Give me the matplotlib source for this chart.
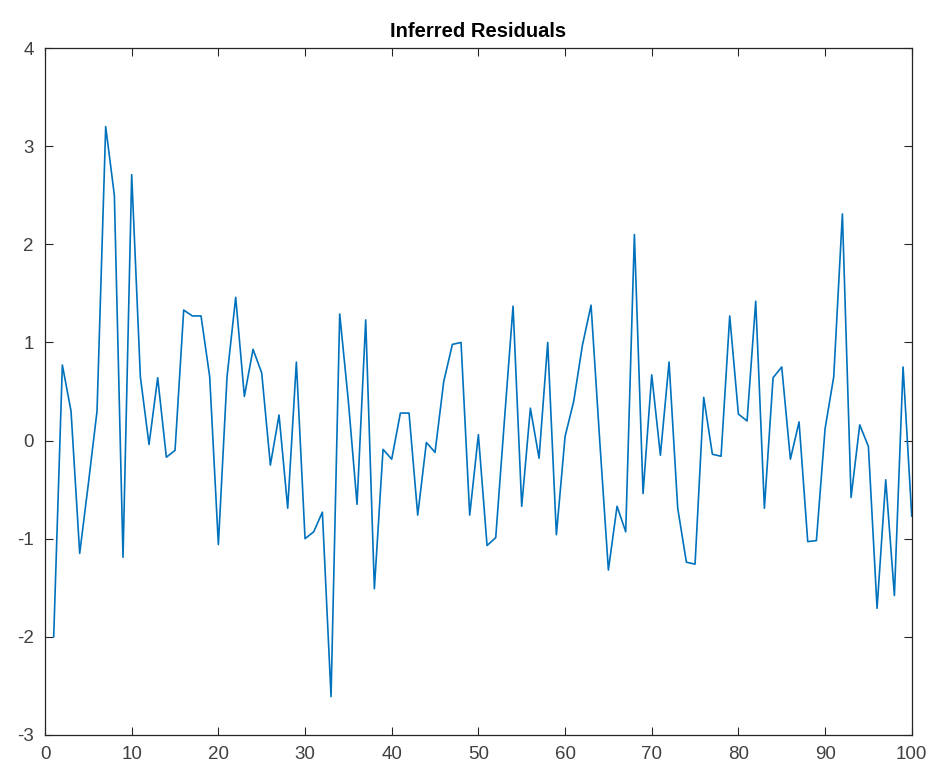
import numpy as np
import matplotlib.pyplot as plt

# residual values, samples 1..100
residuals = [
    -2.00, 0.77, 0.30, -1.15, -0.44, 0.30, 3.20, 2.50, -1.19, 2.71,
    0.65, -0.04, 0.64, -0.17, -0.10, 1.33, 1.27, 1.27, 0.65, -1.06,
    0.65, 1.46, 0.45, 0.93, 0.69, -0.25, 0.26, -0.69, 0.80, -1.00,
    -0.93, -0.73, -2.61, 1.29, 0.40, -0.65, 1.23, -1.51, -0.09, -0.19,
    0.28, 0.28, -0.76, -0.02, -0.12, 0.60, 0.98, 1.00, -0.76, 0.06,
    -1.07, -0.99, 0.20, 1.37, -0.67, 0.33, -0.18, 1.00, -0.96, 0.04,
    0.40, 0.97, 1.38, 0.00, -1.32, -0.67, -0.93, 2.10, -0.54, 0.67,
    -0.15, 0.80, -0.69, -1.24, -1.26, 0.44, -0.14, -0.16, 1.27, 0.27,
    0.20, 1.42, -0.69, 0.64, 0.75, -0.19, 0.19, -1.03, -1.02, 0.12,
    0.65, 2.31, -0.58, 0.16, -0.06, -1.71, -0.40, -1.58, 0.75, -0.77,
]
samples = np.arange(1, len(residuals) + 1)

x_ticks = list(range(0, 101, 10))
y_ticks = list(range(-3, 5))

plt.rcParams['font.family'] = ['Liberation Sans', 'DejaVu Sans']
plt.rcParams['axes.unicode_minus'] = False

fig = plt.figure(figsize=(9.38, 7.76), dpi=100)
ax = fig.add_axes([0.048, 0.053, 0.924, 0.885])

ax.plot(samples, residuals, color='#0072BD', linewidth=1.2)

ax.set_xlim(0, 100)
ax.set_ylim(-3, 4)
ax.set_xticks(x_ticks)
ax.set_yticks(y_ticks)

axis_col = '#262626'
for s in ax.spines.values():
    s.set_color(axis_col)
    s.set_linewidth(0.9)
ax.tick_params(direction='in', top=True, right=True, length=6, width=0.8,
               colors=axis_col, labelsize=13.5, labelcolor='#404040')
ax.tick_params(axis='x', pad=8)
ax.tick_params(axis='y', pad=8)

ax.set_title('Inferred Residuals', fontsize=14.5, fontweight='bold',
             color='black', pad=8)

fig.savefig('out.png', dpi=100)
